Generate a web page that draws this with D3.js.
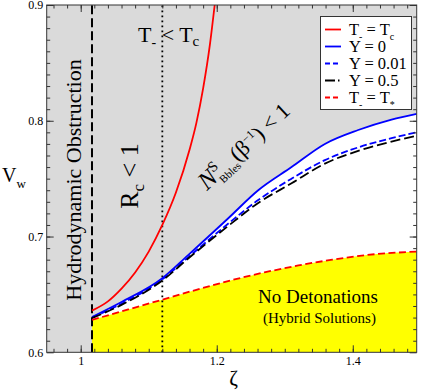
<!DOCTYPE html>
<html lang="en">
<head>
<meta charset="UTF-8">
<title>Detonation bounds</title>
<script src="https://d3js.org/d3.v7.min.js"></script>
<style>
  body { margin: 0; background: #fff; }
  svg text { font-family: "Liberation Serif", "Times New Roman", "DejaVu Serif", serif; fill: #000; }
</style>
</head>
<body>
<svg id="chart" width="423" height="391"></svg>
<script>
// values (zeta, v_w)
const zetaTc = [1.0166, 1.04, 1.06, 1.08, 1.10, 1.12, 1.14, 1.16, 1.17, 1.18, 1.19, 1.197];
const vTc    = [0.636, 0.644, 0.655, 0.669, 0.687, 0.710, 0.738, 0.775, 0.798, 0.828, 0.866, 0.90];

const zetaY = [1.0166, 1.06, 1.12, 1.158, 1.2166, 1.261, 1.31, 1.359, 1.408, 1.457, 1.494];
const vY0   = [0.6305, 0.6434, 0.664, 0.684, 0.7156, 0.740, 0.760, 0.780, 0.792, 0.801, 0.806];
const vY001 = [0.630, 0.642, 0.663, 0.682, 0.711, 0.7315, 0.750, 0.766, 0.777, 0.785, 0.790];
const vY05  = [0.6295, 0.641, 0.662, 0.681, 0.709, 0.729, 0.746, 0.763, 0.774, 0.782, 0.787];

const zetaTs = [1.0166, 1.07, 1.12, 1.17, 1.22, 1.27, 1.32, 1.37, 1.42, 1.494];
const vTs    = [0.628, 0.637, 0.6455, 0.654, 0.662, 0.669, 0.675, 0.680, 0.684, 0.687];

const zetaObstruction = 1.0166;   // dashed vertical
const zetaTcLine = 1.12;          // dotted vertical

const xTicks = [1, 1.2, 1.4];
const yTicks = [0.6, 0.7, 0.8, 0.9];

const legendLabels = [
  [["T"], ["-", "sub"], [" = T"], ["c", "sub"]],
  [["Y = 0"]],
  [["Y = 0.01"]],
  [["Y = 0.5"]],
  [["T"], ["-", "sub"], [" = T"], ["*", "sub"]]
];

const svg = d3.select("#chart");
const pLeft = 46.7, pRight = 416.7, pTop = 5, pBottom = 352.3;

const x = d3.scaleLinear().domain([0.95, 1.494]).range([pLeft, pRight]);
const y = d3.scaleLinear().domain([0.6, 0.9]).range([pBottom, pTop]);

svg.append("defs").append("clipPath").attr("id", "plotclip")
  .append("rect").attr("x", pLeft).attr("y", pTop)
  .attr("width", pRight - pLeft).attr("height", pBottom - pTop);

const plot = svg.append("g").attr("clip-path", "url(#plotclip)");

const pts = (zs, vs) => zs.map((z, i) => [z, vs[i]]);
const line = d3.line().x(d => x(d[0])).y(d => y(d[1])).curve(d3.curveMonotoneX);
const areaBelow = d3.area().x(d => x(d[0])).y0(y(0.6)).y1(d => y(d[1])).curve(d3.curveMonotoneX);

// regions
plot.append("rect").attr("x", pLeft).attr("y", pTop)
  .attr("width", pRight - pLeft).attr("height", pBottom - pTop).attr("fill", "#dadada");
plot.append("path").attr("d", areaBelow(pts(zetaY, vY0))).attr("fill", "#fff");
plot.append("path").attr("d", areaBelow(pts(zetaTs, vTs))).attr("fill", "#ffff00");

// vertical guides
plot.append("line")
  .attr("x1", x(zetaObstruction)).attr("x2", x(zetaObstruction))
  .attr("y1", y(0.6)).attr("y2", y(0.9))
  .attr("stroke", "#000").attr("stroke-width", 2).attr("stroke-dasharray", "9,4");
plot.append("line")
  .attr("x1", x(zetaTcLine)).attr("x2", x(zetaTcLine))
  .attr("y1", y(0.6)).attr("y2", y(0.9))
  .attr("stroke", "#000").attr("stroke-width", 1.8).attr("stroke-dasharray", "1.8,3.2");

// curves
const curves = [
  { data: pts(zetaTc, vTc), color: "#ff0000", dash: null },
  { data: pts(zetaY, vY0), color: "#0000ff", dash: null },
  { data: pts(zetaY, vY001), color: "#0000ff", dash: "7,3" },
  { data: pts(zetaY, vY05), color: "#000", dash: "10,4" },
  { data: pts(zetaTs, vTs), color: "#ff0000", dash: "7,3.5" }
];
plot.selectAll("path.curve")
  .data(curves)
  .enter().append("path")
  .attr("class", "curve")
  .attr("d", d => line(d.data))
  .attr("fill", "none")
  .attr("stroke", d => d.color)
  .attr("stroke-width", 1.8)
  .attr("stroke-dasharray", d => d.dash);

// annotations
svg.append("text")
  .attr("transform", "translate(80.5,180) rotate(-90)")
  .attr("text-anchor", "middle")
  .style("font-size", "22px")
  .text("Hydrodynamic Obstruction");

const rc = svg.append("text")
  .attr("transform", "translate(138,176) rotate(-90)")
  .attr("text-anchor", "middle")
  .style("font-size", "26px");
rc.append("tspan").text("R");
rc.append("tspan").attr("dy", 6).style("font-size", "17px").text("c");
rc.append("tspan").attr("dy", -6).text(" < 1");

const tt = svg.append("text")
  .attr("x", 138).attr("y", 42)
  .style("font-size", "22px");
tt.append("tspan").text("T");
tt.append("tspan").attr("dy", 5).style("font-size", "14px").text("-");
tt.append("tspan").attr("dy", -5).text(" < T");
tt.append("tspan").attr("dy", 4).style("font-size", "15px").text("c");

const nb = svg.append("text")
  .attr("transform", "translate(207,191) rotate(-43)")
  .style("font-size", "22px");
nb.append("tspan").style("font-style", "italic").style("font-size", "25px").text("N");
nb.append("tspan").attr("dy", -9).style("font-size", "15px").text("S");
nb.append("tspan").attr("dx", -8).attr("dy", 15).style("font-size", "11px").text("Bbles");
nb.append("tspan").attr("dy", -6).text("(β");
nb.append("tspan").attr("dy", -8).style("font-size", "12px").text("−1");
nb.append("tspan").attr("dy", 8).text(")");
nb.append("tspan").text(" < 1");

svg.append("text")
  .attr("x", 318).attr("y", 303)
  .attr("text-anchor", "middle")
  .style("font-size", "19px")
  .text("No Detonations");
svg.append("text")
  .attr("x", 319.5).attr("y", 323)
  .attr("text-anchor", "middle")
  .style("font-size", "15px")
  .text("(Hybrid Solutions)");

// axes
const minorX = d3.range(0.96, 1.49, 0.02);
const minorY = d3.range(0.61, 0.9, 0.01);
const tickColor = "#333";

function styleAxis(g) {
  g.select(".domain").remove();
  g.selectAll(".tick line").attr("stroke", tickColor);
  g.selectAll(".tick text").style("font-size", "12px")
    .style("font-family", "Liberation Serif, Times New Roman, serif").attr("fill", "#000");
}

svg.append("g").attr("transform", `translate(0,${pBottom})`)
  .call(d3.axisBottom(x).tickValues(minorX).tickSize(-3.5).tickFormat("")).call(styleAxis);
svg.append("g").attr("transform", `translate(0,${pBottom})`)
  .call(d3.axisBottom(x).tickValues(xTicks).tickSize(-7).tickPadding(4).tickFormat(d3.format(""))).call(styleAxis);
svg.append("g").attr("transform", `translate(0,${pTop})`)
  .call(d3.axisTop(x).tickValues(minorX).tickSize(-3.5).tickFormat("")).call(styleAxis);
svg.append("g").attr("transform", `translate(0,${pTop})`)
  .call(d3.axisTop(x).tickValues(xTicks).tickSize(-7).tickFormat("")).call(styleAxis);

svg.append("g").attr("transform", `translate(${pLeft},0)`)
  .call(d3.axisLeft(y).tickValues(minorY).tickSize(-3.5).tickFormat("")).call(styleAxis);
svg.append("g").attr("transform", `translate(${pLeft},0)`)
  .call(d3.axisLeft(y).tickValues(yTicks).tickSize(-7).tickPadding(3.5).tickFormat(d3.format(".1f"))).call(styleAxis);
svg.append("g").attr("transform", `translate(${pRight},0)`)
  .call(d3.axisRight(y).tickValues(minorY).tickSize(-3.5).tickFormat("")).call(styleAxis);
svg.append("g").attr("transform", `translate(${pRight},0)`)
  .call(d3.axisRight(y).tickValues(yTicks).tickSize(-7).tickFormat("")).call(styleAxis);

svg.append("rect")
  .attr("x", pLeft).attr("y", pTop)
  .attr("width", pRight - pLeft).attr("height", pBottom - pTop)
  .attr("fill", "none").attr("stroke", tickColor).attr("stroke-width", 1);

// axis titles
const vw = svg.append("text").attr("x", 2).attr("y", 182).style("font-size", "20px");
vw.append("tspan").text("V");
vw.append("tspan").attr("dy", 6).style("font-size", "13px").text("w");

svg.append("text")
  .attr("x", (pLeft + pRight) / 2 + 2).attr("y", 385)
  .attr("text-anchor", "middle")
  .style("font-size", "21px")
  .text("ζ");

// legend
const legend = svg.append("g");
legend.append("rect")
  .attr("x", 320.5).attr("y", 16.5).attr("width", 91).attr("height", 93)
  .attr("fill", "#fff").attr("stroke", tickColor).attr("stroke-width", 1);

curves.forEach((c, i) => {
  const cy = 29.5 + i * 17;
  legend.append("line")
    .attr("x1", 325).attr("x2", 341).attr("y1", cy).attr("y2", cy)
    .attr("stroke", c.color).attr("stroke-width", 1.8)
    .attr("stroke-dasharray", i === 3 ? "10,3,1.5,3" : (c.dash ? "5,3" : null));
  const t = legend.append("text")
    .attr("x", 349).attr("y", cy + 5.5)
    .style("font-size", "16.5px");
  let shift = 0;
  legendLabels[i].forEach(([s, kind]) => {
    const target = kind === "sub" ? 5 : 0;
    t.append("tspan")
      .attr("dy", target - shift)
      .style("font-size", kind === "sub" ? "10px" : "16.5px")
      .text(s);
    shift = target;
  });
});
</script>
</body>
</html>
